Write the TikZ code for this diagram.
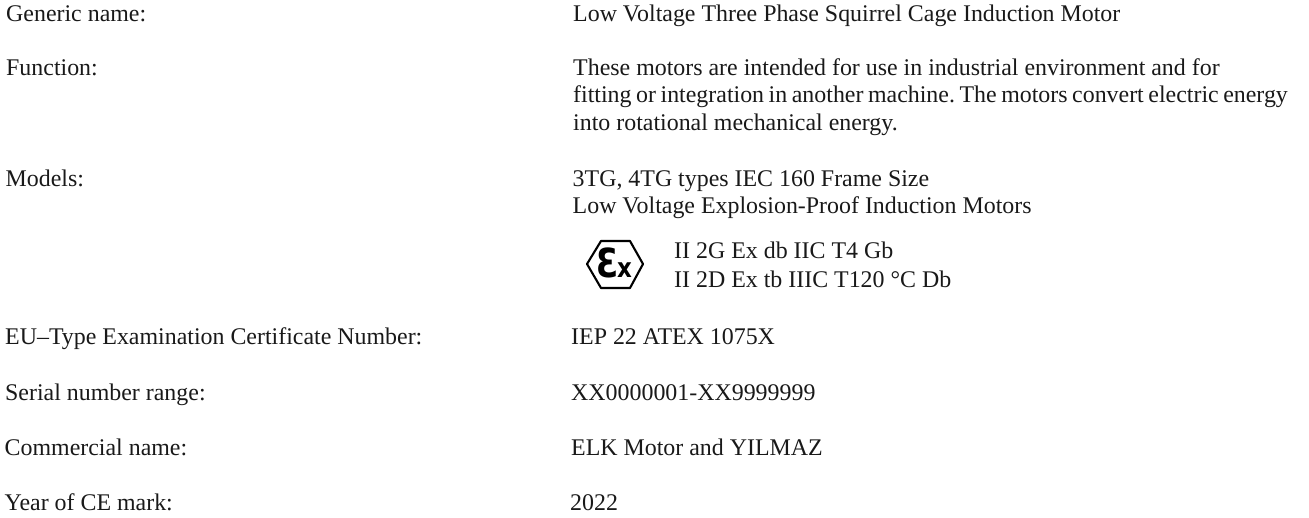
\documentclass[tikz,border=0pt]{standalone}
\usepackage{fontspec}
\setmainfont{Liberation Serif}
\newfontfamily\exfont{DejaVu Sans}
\frenchspacing
\tikzset{
    lbl/.style={anchor=base west, inner sep=0pt, font=\fontsize{23.9pt}{26pt}\selectfont, text=black!90},
}
\begin{document}
\begin{tikzpicture}[x=1pt,y=-1pt]
    \useasboundingbox (0,0) rectangle (1309,518);

    % linke Spalte
    \node[lbl] (generic) at (6,22) {Generic name:};
    \node[lbl] (function) at (6,76) {Function:};
    \node[lbl] (models) at (5.5,187) {Models:};
    \node[lbl] (cert) at (5,345) {EU--Type Examination Certificate Number:};
    \node[lbl] (serial) at (5,400) {Serial number range:};
    \node[lbl] (commercial) at (4.5,455) {Commercial name:};
    \node[lbl] (year) at (4.5,510) {Year of CE mark:};

    % rechte Spalte
    \node[lbl] (genericval) at (573,22) {Low Voltage Three Phase Squirrel Cage Induction Motor};
    \node[lbl] (funcA) at (573,76) {These motors are intended for use in industrial environment and for};
    \node[lbl] (funcB) at (573,103) {\spaceskip=0.19em fitting or integration in another machine. The motors convert electric energy};
    \node[lbl] (funcC) at (573,131) {into rotational mechanical energy.};
    \node[lbl] (modelA) at (572.5,187) {3TG, 4TG types IEC 160 Frame Size};
    \node[lbl] (modelB) at (572.5,213.5) {Low Voltage Explosion-Proof Induction Motors};
    \node[lbl] (exA) at (674,259) {II 2G Ex db IIC T4 Gb};
    \node[lbl] (exB) at (674,288) {II 2D Ex tb IIIC T120 °C Db};
    \node[lbl] (certval) at (571,345) {IEP 22 ATEX 1075X};
    \node[lbl] (serialval) at (571,400) {XX0000001-XX9999999};
    \node[lbl] (commercialval) at (571,455) {ELK Motor and YILMAZ};
    \node[lbl] (yearval) at (570,510.5) {2022};

    % Ex-Zeichen
    \draw[line width=2.1pt, line join=round] (601,241) -- (630,241) -- (643,264) -- (630,288) -- (601,288) -- (587,264) -- cycle;
    \node[anchor=base, inner sep=0pt, xscale=.8, font=\exfont\bfseries\fontsize{40pt}{40pt}\selectfont] (exe) at (607.5,277.5) {Ɛ};
    \node[anchor=base, inner sep=0pt, xscale=.85, font=\exfont\bfseries\fontsize{27pt}{27pt}\selectfont] (exx) at (624.5,278) {x};
\end{tikzpicture}
\end{document}
